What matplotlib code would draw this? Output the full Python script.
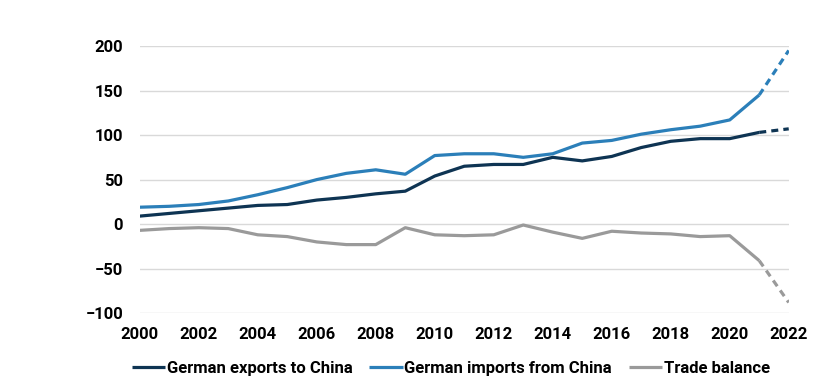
import matplotlib.pyplot as plt

plt.rcParams['font.family'] = ['Roboto', 'DejaVu Sans']
plt.rcParams['font.weight'] = 'bold'

years = list(range(2000, 2023))
exports = [9, 12, 15, 18, 21, 22, 27, 30, 34, 37, 54, 65, 67, 67, 75, 71, 76, 86, 93, 96, 96, 103, 107]
imports = [19, 20, 22, 26, 33, 41, 50, 57, 61, 56, 77, 79, 79, 75, 79, 91, 94, 101, 106, 110, 117, 145, 195]
balance = [-7, -5, -4, -5, -12, -14, -20, -23, -23, -4, -12, -13, -12, -1, -9, -16, -8, -10, -11, -14, -13, -41, -88]

names = ["German exports to China", "German imports from China", "Trade balance"]
colors = ["#0e3453", "#2b7fb9", "#9a9a9a"]

fig = plt.figure(figsize=(8.32, 3.9), dpi=100)
ax = fig.add_axes([0.168, 0.197, 0.78, 0.685])

for vals, name, c in zip([exports, imports, balance], names, colors):
    # actual data up to 2021, estimate for 2022 dashed
    ax.plot(years[:-1], vals[:-1], color=c, lw=2.3, label=name, solid_capstyle='butt')
    ax.plot(years[-2:], vals[-2:], color=c, lw=2.3, ls=(0, (2.2, 1.6)))

ax.set_xlim(2000, 2022)
ax.set_ylim(-100, 200)
ax.set_xticks(range(2000, 2023, 2))
ax.set_yticks(range(-100, 201, 50))
ax.grid(axis='y', color='#d9d9d9', lw=1)
ax.set_axisbelow(True)
for s in ax.spines.values():
    s.set_visible(False)
ax.tick_params(length=0, labelsize=12)
ax.tick_params(axis='y', pad=12)
ax.tick_params(axis='x', pad=10)

fig.legend(loc='center', bbox_to_anchor=(0.542, 0.056), ncol=3, frameon=False,
           fontsize=12, handlelength=2.0, handletextpad=0.1, columnspacing=1.0)

plt.savefig("out.png", dpi=100)
